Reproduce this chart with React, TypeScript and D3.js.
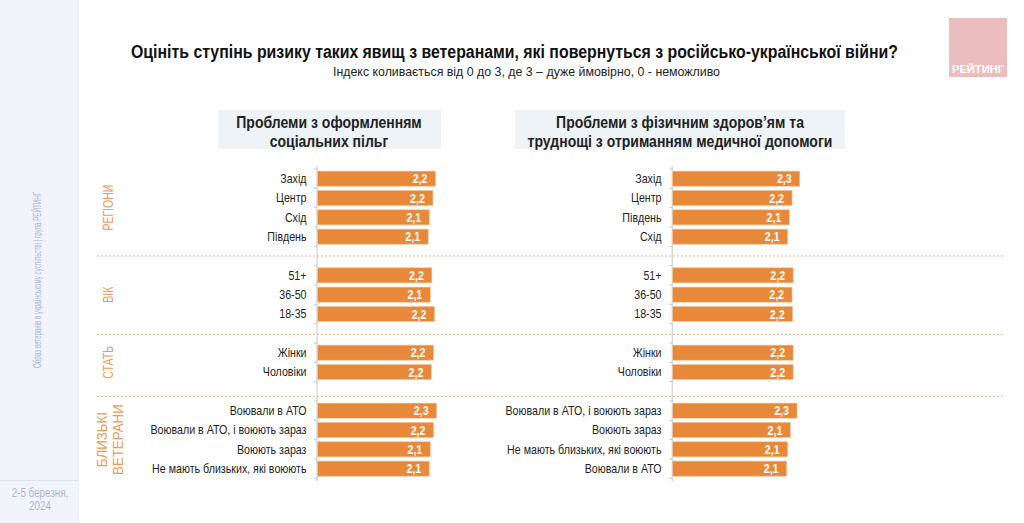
import React from "react";
import * as d3 from "d3";

// ---------- data ----------
const groupNames = ["РЕГІОНИ", "ВІК", "СТАТЬ", "БЛИЗЬКІ ВЕТЕРАНИ"];

const leftRegions = ["Захід", "Центр", "Схід", "Південь"];
const leftRegionValues = [2.24, 2.19, 2.12, 2.1];
const leftAge = ["51+", "36-50", "18-35"];
const leftAgeValues = [2.17, 2.14, 2.22];
const leftSex = ["Жінки", "Чоловіки"];
const leftSexValues = [2.2, 2.16];
const leftVets = ["Воювали в АТО", "Воювали в АТО, і воюють зараз", "Воюють зараз", "Не мають близьких, які воюють"];
const leftVetValues = [2.26, 2.2, 2.14, 2.12];

const rightRegions = ["Захід", "Центр", "Південь", "Схід"];
const rightRegionValues = [2.31, 2.17, 2.12, 2.09];
const rightAge = ["51+", "36-50", "18-35"];
const rightAgeValues = [2.19, 2.17, 2.18];
const rightSex = ["Жінки", "Чоловіки"];
const rightSexValues = [2.19, 2.19];
const rightVets = ["Воювали в АТО, і воюють зараз", "Воюють зараз", "Не мають близьких, які воюють", "Воювали в АТО"];
const rightVetValues = [2.26, 2.14, 2.09, 2.07];

const title = "Оцініть ступінь ризику таких явищ з ветеранами, які повернуться з російсько-української війни?";
const subtitle = "Індекс коливається від 0 до 3, де 3 – дуже ймовірно, 0 - неможливо";
const leftHeader = ["Проблеми з оформленням", "соціальних пільг"];
const rightHeader = ["Проблеми з фізичним здоров’ям та", "труднощі з отриманням медичної допомоги"];
const sideText = "Образ ветеранів в українському суспільстві | група РЕЙТИНГ";
const dateText = ["2-5 березня,", "2024"];

// ---------- layout ----------
const W = 1024, H = 523;
const FONT = "'Liberation Sans', Arial, sans-serif";
const SX = 0.82; // narrow-font emulation
const ORANGE = "#E8893A";
const LABEL_ORANGE = "#EE9A55";
const SIDE = "#A9B6D0";

type Row = { key: string; label: string; value: number | null; group: number };

function buildRows(groups: [string[], number[]][]): Row[] {
  const rows: Row[] = [];
  groups.forEach(([cats, vals], gi) => {
    if (gi > 0) rows.push({ key: `gap${gi}`, label: "", value: null, group: -gi });
    cats.forEach((c, i) => rows.push({ key: `${gi}-${i}`, label: c, value: vals[i], group: gi }));
  });
  return rows;
}

const leftRows = buildRows([
  [leftRegions, leftRegionValues],
  [leftAge, leftAgeValues],
  [leftSex, leftSexValues],
  [leftVets, leftVetValues],
]);
const rightRows = buildRows([
  [rightRegions, rightRegionValues],
  [rightAge, rightAgeValues],
  [rightSex, rightSexValues],
  [rightVets, rightVetValues],
]);

const yTop = 169;
const y = d3.scaleBand<string>().domain(leftRows.map((r) => r.key)).range([yTop, 478.3]).paddingInner(0.22).paddingOuter(0.11);
const step = y.step();

const fmt = (v: number) => d3.format(".1f")(v).replace(".", ",");

function NText({ x, y, anchor = "start", size, weight = "normal", fill = "#222", rotate = 0, children, sx = SX }: any) {
  return (
    <text
      transform={`translate(${x},${y})${rotate ? ` rotate(${rotate})` : ""} scale(${sx},1)`}
      textAnchor={anchor}
      fontSize={size}
      fontWeight={weight}
      fill={fill}
      fontFamily={FONT}
    >
      {children}
    </text>
  );
}

function Panel({ rows, x0, k, labelX }: { rows: Row[]; x0: number; k: number; labelX: number }) {
  const x = d3.scaleLinear().domain([0, 3]).range([x0, x0 + 3 * k]);
  const ticks = d3.range(rows.length + 1).map((i) => yTop + i * step);
  return (
    <g>
      <line x1={x0 - 0.5} x2={x0 - 0.5} y1={166} y2={481} stroke="#C8C8C8" strokeWidth={1} />
      {ticks.map((t, i) => (
        <line key={i} x1={x0 - 3.5} x2={x0 - 0.5} y1={t} y2={t} stroke="#C8C8C8" strokeWidth={1} />
      ))}
      {rows.map((r, i) => {
        if (r.value === null) return null;
        const yy = y(r.key)!;
        const bh = y.bandwidth();
        const xe = x(r.value);
        return (
          <g key={i}>
            <rect x={x(0)} y={yy} width={xe - x(0)} height={bh} fill={ORANGE} stroke="#F4C49A" strokeWidth={0.6} />
            <NText x={xe - 8} y={yy + bh / 2 + 4.6} anchor="end" fill="#fff" weight="bold" size={13}>
              {fmt(r.value)}
            </NText>
            <NText x={labelX} y={yy + bh / 2 + 4.4} anchor="end" fill="#222" size={13}>
              {r.label}
            </NText>
          </g>
        );
      })}
    </g>
  );
}

export default function App() {
  const gapRows = leftRows.filter((r) => r.value === null);
  const sepOffsets = [0, 1, 5];
  const groupCenters = groupNames.map((_, gi) => {
    const rs = leftRows.filter((r) => r.group === gi);
    const a = y(rs[0].key)!;
    const b = y(rs[rs.length - 1].key)! + y.bandwidth();
    return (a + b) / 2;
  });

  return (
    <svg width={W} height={H} style={{ position: "absolute", left: 0, top: 0, background: "#fff" }}>
      {/* sidebar */}
      <rect x={0} y={0} width={78} height={H} fill="#F1F4FA" />
      <line x1={78.5} x2={78.5} y1={0} y2={H} stroke="#DCE2EE" strokeDasharray="1,1" />
      <line x1={0} x2={78} y1={480.5} y2={480.5} stroke="#DCE2EE" />
      <text x={0} y={0} transform="translate(41,280) rotate(-90)" textAnchor="middle" fill={SIDE} fontSize={10.5} fontFamily={FONT} textLength={176} lengthAdjust="spacingAndGlyphs">
        {sideText}
      </text>
      {dateText.map((t, i) => (
        <NText key={i} x={40} y={497 + i * 13} anchor="middle" fill={SIDE} size={12}>
          {t}
        </NText>
      ))}

      {/* title */}
      <text x={131} y={58} fontWeight="bold" fontSize={18} fill="#111" fontFamily={FONT} textLength={767} lengthAdjust="spacingAndGlyphs">
        {title}
      </text>
      <text x={333} y={76} fontSize={13} fill="#222" fontFamily={FONT} textLength={387} lengthAdjust="spacingAndGlyphs">
        {subtitle}
      </text>

      {/* logo */}
      <rect x={949} y={18} width={58} height={59} fill="#EBBDBE" />
      <text x={952} y={73} fontWeight="bold" fontSize={11} fill="#fff" fontFamily={FONT} textLength={52} lengthAdjust="spacingAndGlyphs">
        РЕЙТИНГ
      </text>

      {/* headers */}
      <rect x={218} y={110} width={223} height={39} fill="#EEF3F8" />
      {leftHeader.map((t, i) => (
        <NText key={i} x={329} y={128 + i * 19} anchor="middle" weight="bold" size={17.1}>
          {t}
        </NText>
      ))}
      <rect x={515} y={110} width={330} height={39} fill="#EEF3F8" />
      {rightHeader.map((t, i) => (
        <NText key={i} x={680} y={128 + i * 19} anchor="middle" weight="bold" size={17.1}>
          {t}
        </NText>
      ))}

      {/* separators */}
      {gapRows.map((r, i) => {
        const yy = yTop + leftRows.indexOf(r) * step + step / 2 + sepOffsets[i];
        return <line key={i} x1={97} x2={1004} y1={yy} y2={yy} stroke="#F2B27E" strokeWidth={1} strokeDasharray="2,2" />;
      })}

      {/* group labels */}
      {groupNames.map((g, gi) => {
        const words = g.split(" ");
        const multi = words.length > 1;
        return words.map((w, wi) => (
          <NText
            key={`${gi}-${wi}`}
            x={(multi ? 107 : 113) + wi * 16}
            y={groupCenters[gi]}
            rotate={-90}
            anchor="middle"
            fill={LABEL_ORANGE}
            size={14}
            sx={multi ? 0.95 : 0.75}
          >
            {w}
          </NText>
        ));
      })}

      <Panel rows={leftRows} x0={317.5} k={52.7} labelX={306.5} />
      <Panel rows={rightRows} x0={672.7} k={55} labelX={661.5} />
    </svg>
  );
}
